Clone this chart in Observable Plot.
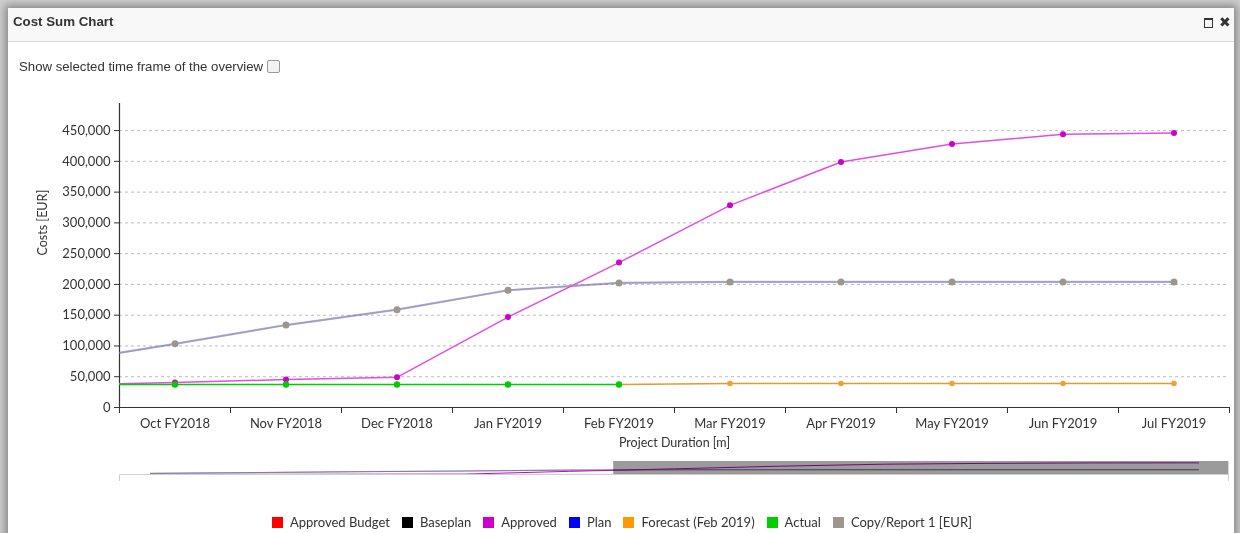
<!DOCTYPE html>
<html><head><meta charset="utf-8">
<script src="https://cdn.jsdelivr.net/npm/d3@7"></script>
<script src="https://cdn.jsdelivr.net/npm/@observablehq/plot@0.6"></script>
<style>
html,body{margin:0;padding:0;width:1240px;height:533px;overflow:hidden;}
body{position:relative;background:#cfcfcf;}
#dlg{position:absolute;left:8px;top:8px;width:1226px;height:560px;background:#fff;box-shadow:0 0 8px 3px rgba(0,0,0,0.35);}
#hdr{position:absolute;left:8px;top:8px;width:1226px;height:33px;background:#f8f8f8;border-bottom:1px solid #d9d9d9;}
#title{position:absolute;left:13px;top:14px;font:bold 13.3px "Liberation Sans",Arial,sans-serif;color:#333;line-height:16px;}
#maxi{position:absolute;left:1204px;top:18px;width:7px;height:7px;border:1.5px solid #333;border-top-width:2.5px;}
#close{position:absolute;left:1219px;top:13px;font:bold 14px "DejaVu Sans",sans-serif;color:#333;line-height:18px;}
#opt{position:absolute;left:19px;top:59px;font:13.2px "Liberation Sans",Arial,sans-serif;color:#333;line-height:16px;}
#cb{display:inline-block;width:11px;height:11px;border:1px solid #9a9a9a;border-radius:2px;background:#f2f2f2;vertical-align:-2px;margin-left:4px;}
#main{position:absolute;left:0;top:80px;}
#over{position:absolute;left:0;top:450px;}
#legend{position:absolute;left:0;top:514px;width:1244px;text-align:center;font:13px Lato,sans-serif;color:#333;line-height:16px;white-space:nowrap;}
#legend span.it{margin:0 6px;}
#legend i{display:inline-block;width:11px;height:11px;margin-right:7px;vertical-align:-1px;}
</style></head>
<body>
<div id="dlg"></div>
<div id="hdr"></div>
<div id="title">Cost Sum Chart</div>
<div id="maxi"></div>
<div id="close">✖</div>
<div id="opt">Show selected time frame of the overview<span id="cb"></span></div>
<div id="main"></div>
<div id="over"></div>
<div id="legend"></div>
<script>
// ---- data ----
// index -1 is the lead-in month (Sep FY2018), clipped off the left edge of the focus view
const months = ["Sep FY2018","Oct FY2018","Nov FY2018","Dec FY2018","Jan FY2019","Feb FY2019","Mar FY2019","Apr FY2019","May FY2019","Jun FY2019","Jul FY2019"];
const approved = [36500, 40500, 45500, 49000, 147000, 235500, 328500, 399000, 428000, 444000, 446000];
const plan     = [74000, 103500, 134000, 159000, 190500, 202500, 204000, 204000, 204000, 204000, 204000];
const copyReport = [74000, 103500, 134000, 159000, 190500, 202500, 204000, 204000, 204000, 204000, 204000];
const actual   = [37400, 37400, 37400, 37400, 37400, 37400];          // Sep .. Feb
const forecast = [37400, 39000, 39000, 39000, 39000, 39000];          // Feb .. Jul
const yTicks = [0, 50000, 100000, 150000, 200000, 250000, 300000, 350000, 400000, 450000];
const yMax = 494000;
const brushRange = [3.42, 9.29];
const legendItems = [
  ["Approved Budget", "#ff0000"], ["Baseplan", "#000000"], ["Approved", "#cc00cc"],
  ["Plan", "#0000ff"], ["Forecast (Feb 2019)", "#ff9900"], ["Actual", "#00cc00"],
  ["Copy/Report 1 [EUR]", "#9c978a"]
];
const colApprovedLine = "#e04fe0", colApprovedDot = "#cc00cc";
const colCopy = "#9c978a", colPlan = "#0000ff", colActual = "#00cc00", colForecast = "#e49a30";

const rows = (vals, start) => vals.map((v, i) => ({x: i + start, v}));
const approvedRows = rows(approved, -1);
const planRows = rows(plan, -1);
const copyRows = rows(copyReport, -1);
const actualRows = rows(actual, -1);
const forecastRows = rows(forecast, 4);
const shownIdx = d3.range(0, 10);

const main = Plot.plot({
  width: 1240, height: 380,
  marginLeft: 119, marginRight: 11, marginTop: 23, marginBottom: 53,
  x: {type: "linear", domain: [-0.5, 9.5]},
  y: {domain: [0, yMax]},
  style: {fontFamily: "Lato, sans-serif", fontSize: "13px", color: "#333", background: "transparent", overflow: "visible"},
  marks: [
    Plot.gridY(yTicks.slice(1), {stroke: "#bdbdbd", strokeOpacity: 1, strokeDasharray: "3,3"}),
    Plot.axisY(yTicks, {tickSize: 5, tickPadding: 4, tickFormat: d3.format(","), label: null, stroke: "#333"}),
    Plot.axisX(shownIdx, {tickSize: 0, tickPadding: 11, tickFormat: i => months[i + 1], label: null}),
    Plot.axisX(d3.range(0, 11).map(i => i - 0.5), {tickSize: 6, tickFormat: () => "", label: null, stroke: "#333"}),
    Plot.ruleX([-0.5], {stroke: "#333", strokeWidth: 1.2}),
    Plot.ruleY([0], {stroke: "#333", strokeWidth: 1.2}),
    Plot.text(["Costs [EUR]"], {text: d => d, frameAnchor: "left", dx: -77, rotate: -90, fontSize: 12.5, fill: "#333"}),
    Plot.text(["Project Duration [m]"], {text: d => d, frameAnchor: "bottom", dy: 39, fontSize: 12.5, fill: "#333"}),
    Plot.line(planRows, {x: "x", y: "v", stroke: colPlan, strokeOpacity: 0.3, strokeWidth: 2.2, clip: true}),
    Plot.line(copyRows, {x: "x", y: "v", stroke: colCopy, strokeOpacity: 0.75, strokeWidth: 1.3, clip: true}),
    Plot.dot(copyRows.filter(d => d.x >= 0), {x: "x", y: "v", r: 3.5, fill: colCopy, clip: true}),
    Plot.line(approvedRows, {x: "x", y: "v", stroke: colApprovedLine, strokeWidth: 1.5, clip: true}),
    Plot.dot(approvedRows.filter(d => d.x >= 0), {x: "x", y: "v", r: 3, fill: colApprovedDot, clip: true}),
    Plot.line(forecastRows, {x: "x", y: "v", stroke: colForecast, strokeWidth: 1.6, clip: true}),
    Plot.dot(forecastRows, {x: "x", y: "v", r: 2.8, fill: "#f0a030", clip: true}),
    Plot.line(actualRows, {x: "x", y: "v", stroke: colActual, strokeWidth: 1.5, clip: true}),
    Plot.dot(actualRows.filter(d => d.x >= 0), {x: "x", y: "v", r: 3.2, fill: colActual, clip: true})
  ]
});
document.getElementById("main").appendChild(main);

const over = Plot.plot({
  width: 1240, height: 40,
  marginLeft: 119, marginRight: 12, marginTop: 11, marginBottom: 15,
  x: {type: "linear", domain: [-1, 9], insetLeft: 31, insetRight: 30, axis: null},
  y: {domain: [0, yMax], axis: null},
  style: {background: "transparent", overflow: "visible"},
  marks: [
    Plot.line(planRows, {x: "x", y: "v", stroke: colPlan, strokeOpacity: 0.35, strokeWidth: 1.2}),
    Plot.line(copyRows, {x: "x", y: "v", stroke: "#777", strokeOpacity: 0.8, strokeWidth: 1}),
    Plot.line(approvedRows, {x: "x", y: "v", stroke: colApprovedDot, strokeWidth: 1}),
    Plot.line(forecastRows, {x: "x", y: "v", stroke: "#e08a30", strokeWidth: 1}),
    Plot.line(actualRows, {x: "x", y: "v", stroke: "#33bb33", strokeWidth: 1}),
    Plot.rect([brushRange], {x1: d => d[0], x2: d => d[1], fill: "#9b9b9b", mixBlendMode: "multiply"})
  ]
});
d3.select(over).append("path").attr("d", "M119.5,31V24.5H1228.5V31").attr("fill", "none").attr("stroke", "#cfcfcf");
document.getElementById("over").appendChild(over);

const lg = d3.select("#legend");
legendItems.forEach(([name, c]) => {
  const s = lg.append("span").attr("class", "it");
  s.append("i").style("background", c);
  s.append("span").text(name);
});
</script>
</body></html>
